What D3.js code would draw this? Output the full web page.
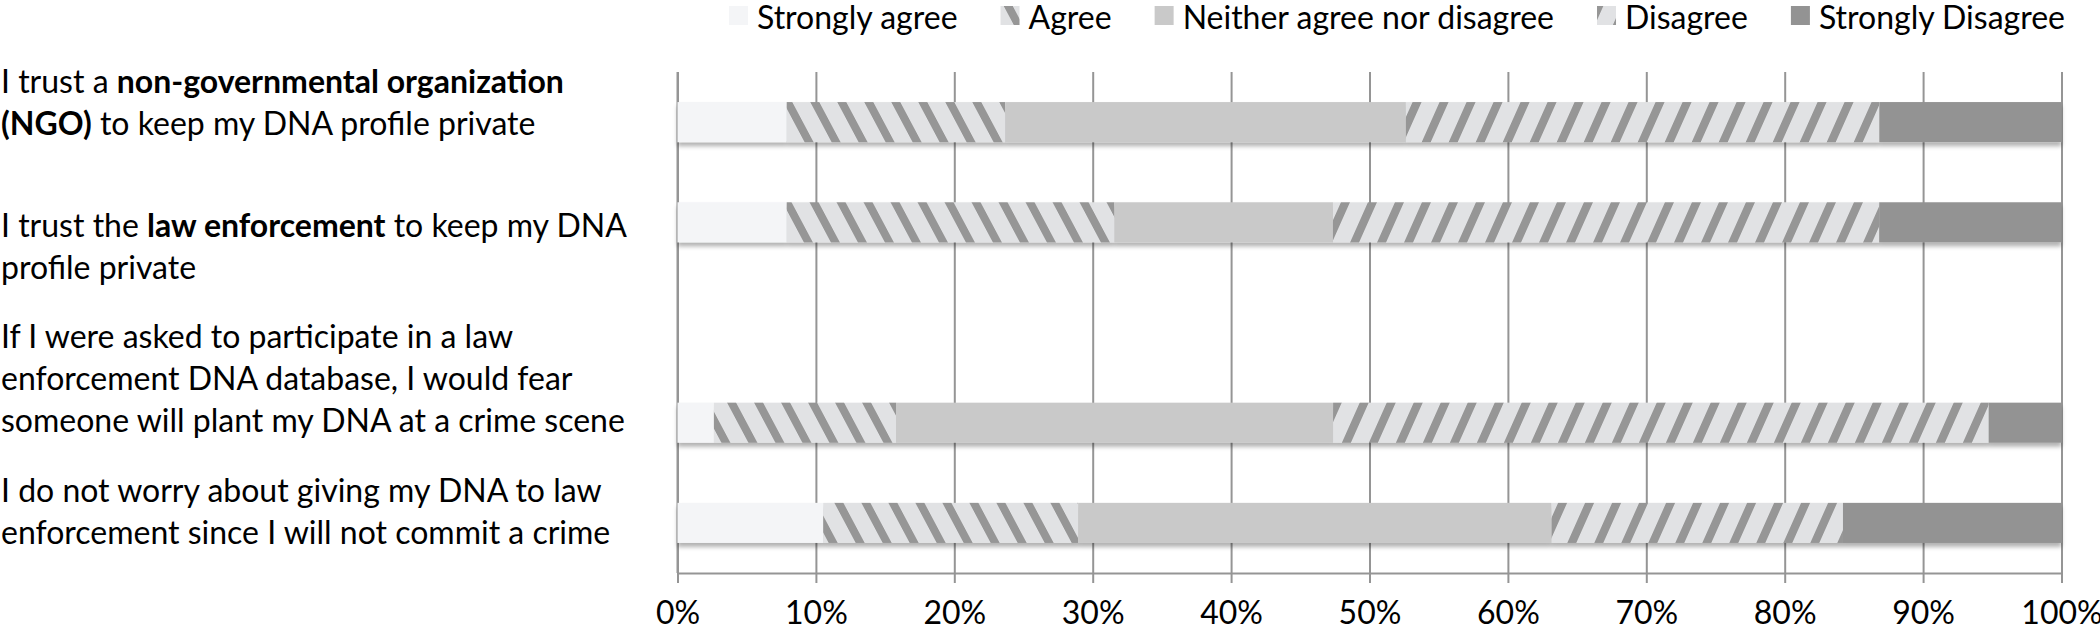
<!DOCTYPE html>
<meta charset="utf-8">
<style>
  body { margin: 0; background: #fff; }
  text { font-family: Lato, "Open Sans", sans-serif; fill: #000; }
  .grid line, .grid path { stroke: #959595; stroke-width: 2px; }
  .x-axis line, .x-axis path { stroke: #959595; stroke-width: 2px; }
</style>
<body>
<svg width="2100" height="631"></svg>
<script src="https://d3js.org/d3.v7.min.js"></script>
<script>

// rows top to bottom, the third slot is left blank in the original chart
var rows = ["ngo", "law", "blank", "plant", "worry"];
var levels = ["Strongly agree", "Agree", "Neither agree nor disagree", "Disagree", "Strongly Disagree"];

// % of respondents per answer, one value per row
var stronglyAgree    = [7.89, 7.89, 0, 2.63, 10.53];
var agree            = [15.79, 23.68, 0, 13.16, 18.42];
var neither          = [28.95, 15.79, 0, 31.58, 34.21];
var disagree         = [34.21, 39.47, 0, 47.37, 21.05];
var stronglyDisagree = [13.16, 13.16, 0, 5.26, 15.79];

var tickValues = [0, 10, 20, 30, 40, 50, 60, 70, 80, 90, 100];

// question text, line by line, [piece, bold]
var questions = [
  [[["I trust a ", false], ["non-governmental organization", true]],
   [["(NGO)", true], [" to keep my DNA profile private", false]]],
  [[["I trust the ", false], ["law enforcement", true], [" to keep my DNA", false]],
   [["profile private", false]]],
  [[["If I were asked to participate in a law", false]],
   [["enforcement DNA database, I would fear", false]],
   [["someone will plant my DNA at a crime scene", false]]],
  [[["I do not worry about giving my DNA to law", false]],
   [["enforcement since I will not commit a crime", false]]]
];
var questionBaseline = [93, 237, 348, 502];   // first line baseline of each question
var lineHeight = 42;

var svg = d3.select("svg");
var defs = svg.append("defs");

var x = d3.scaleLinear().domain([0, 100]).range([677.5, 2061.5]);
var y = d3.scaleBand().domain(rows).range([72, 573]).paddingInner(0.6).paddingOuter(0.3);

// fills
function hatch(id, skew) {
  var p = defs.append("pattern")
    .attr("id", id)
    .attr("patternUnits", "userSpaceOnUse")
    .attr("width", 27).attr("height", 40)
    .attr("patternTransform", "skewX(" + skew + ")");
  p.append("rect").attr("width", 27).attr("height", 40).attr("fill", "#e1e2e4");
  p.append("rect").attr("width", 9).attr("height", 40).attr("fill", "#969696");
}
hatch("hatchAgree", 28);
hatch("hatchDisagree", -24);

var fills = ["#f4f5f7", "url(#hatchAgree)", "#c9c9c9", "url(#hatchDisagree)", "#939393"];
var color = d3.scaleOrdinal().domain(levels).range(fills);

var shadow = defs.append("filter").attr("id", "shadow")
  .attr("x", "-2%").attr("y", "-20%").attr("width", "104%").attr("height", "160%");
shadow.append("feDropShadow")
  .attr("dx", 0).attr("dy", 4).attr("stdDeviation", 2)
  .attr("flood-color", "#000").attr("flood-opacity", 0.3);

// grid + axis
svg.append("g")
  .attr("class", "grid")
  .attr("transform", "translate(0,72)")
  .call(d3.axisBottom(x).tickValues(tickValues).tickSize(501).tickFormat(""))
  .call(g => g.select(".domain").remove());

svg.append("line")
  .attr("x1", x(0)).attr("x2", x(0))
  .attr("y1", 72).attr("y2", 573)
  .attr("stroke", "#959595").attr("stroke-width", 2);

var xAxis = svg.append("g")
  .attr("class", "x-axis")
  .attr("transform", "translate(0,573)")
  .call(d3.axisBottom(x).tickValues(tickValues).tickSize(10).tickSizeOuter(0)
    .tickFormat(d => d + "%"));
xAxis.selectAll("text")
  .attr("y", 0).attr("dy", 0)
  .attr("transform", "translate(0,51)")
  .style("font-size", "32px")
  .attr("fill", "#000");

// bars
var table = rows.map(function(r, i) {
  return {
    row: r,
    "Strongly agree": stronglyAgree[i],
    "Agree": agree[i],
    "Neither agree nor disagree": neither[i],
    "Disagree": disagree[i],
    "Strongly Disagree": stronglyDisagree[i]
  };
});

var series = d3.stack().keys(levels)(table);

var rowGroups = svg.append("g").attr("class", "bars")
  .selectAll("g")
  .data(table.filter(d => d3.sum(levels, k => d[k]) > 0))
  .enter().append("g")
  .attr("filter", "url(#shadow)");

rowGroups.selectAll("rect")
  .data(function(d) {
    var i = rows.indexOf(d.row);
    return series.map(s => ({ key: s.key, row: d.row, v0: s[i][0], v1: s[i][1] }));
  })
  .enter().append("rect")
  .attr("x", d => x(d.v0))
  .attr("width", d => x(d.v1) - x(d.v0))
  .attr("y", d => y(d.row))
  .attr("height", y.bandwidth())
  .attr("fill", d => color(d.key));

// question labels
var q = svg.append("g").attr("class", "questions")
  .selectAll("text")
  .data(questions)
  .enter().append("text")
  .style("font-size", "32px");

q.each(function(lines, qi) {
  var t = d3.select(this);
  lines.forEach(function(pieces, li) {
    pieces.forEach(function(p, pi) {
      var ts = t.append("tspan").text(p[0]).style("font-weight", p[1] ? "bold" : "normal");
      if (pi === 0) ts.attr("x", 1).attr("y", questionBaseline[qi] + li * lineHeight);
    });
  });
});

// legend
var legend = svg.append("g").attr("class", "legend").attr("transform", "translate(729,0)");
var lx = 0;
levels.forEach(function(k) {
  var g = legend.append("g").attr("transform", "translate(" + lx + ",0)");
  g.append("rect").attr("x", 0).attr("y", 6).attr("width", 19).attr("height", 19).attr("fill", color(k));
  var t = g.append("text").attr("x", 28).attr("y", 29).style("font-size", "32px").text(k);
  lx += 28 + t.node().getComputedTextLength() + 43;
});

</script>
</body>
